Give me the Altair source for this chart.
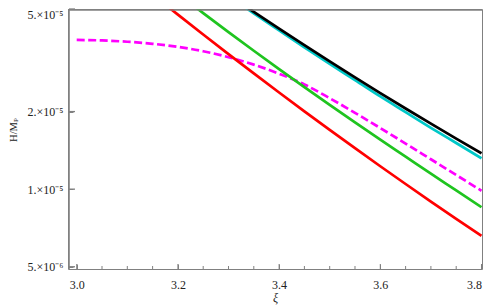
import altair as alt
import pandas as pd

# ---- data ----
xi_black = [3.30, 3.35, 3.40, 3.45, 3.50, 3.55, 3.60, 3.65, 3.70, 3.75, 3.80]
h_black = [5.675e-5, 4.875e-5, 4.198e-5, 3.622e-5, 3.133e-5, 2.716e-5, 2.360e-5, 2.056e-5, 1.795e-5, 1.570e-5, 1.377e-5]

xi_cyan = [3.30, 3.35, 3.40, 3.45, 3.50, 3.55, 3.60, 3.65, 3.70, 3.75, 3.80]
h_cyan = [5.62e-5, 4.81e-5, 4.13e-5, 3.55e-5, 3.06e-5, 2.65e-5, 2.29e-5, 1.99e-5, 1.73e-5, 1.51e-5, 1.318e-5]

xi_green = [3.20, 3.25, 3.30, 3.35, 3.40, 3.45, 3.50, 3.55, 3.60, 3.65, 3.70, 3.75, 3.80]
h_green = [5.74e-5, 4.82e-5, 4.064e-5, 3.443e-5, 2.924e-5, 2.489e-5, 2.123e-5, 1.816e-5, 1.556e-5, 1.337e-5, 1.148e-5, 9.89e-6, 8.51e-6]

xi_red = [3.15, 3.20, 3.25, 3.30, 3.35, 3.40, 3.45, 3.50, 3.55, 3.60, 3.65, 3.70, 3.75, 3.80]
h_red = [5.69e-5, 4.753e-5, 3.981e-5, 3.342e-5, 2.812e-5, 2.371e-5, 2.004e-5, 1.698e-5, 1.442e-5, 1.227e-5, 1.047e-5, 8.95e-6, 7.67e-6, 6.59e-6]

xi_magenta = [3.00, 3.05, 3.10, 3.15, 3.20, 3.25, 3.30, 3.35, 3.40, 3.45, 3.50, 3.55, 3.60, 3.65, 3.70, 3.75, 3.80]
h_magenta = [3.793e-5, 3.776e-5, 3.732e-5, 3.664e-5, 3.564e-5, 3.428e-5, 3.251e-5, 3.041e-5, 2.805e-5, 2.547e-5,
             2.254e-5, 1.977e-5, 1.726e-5, 1.503e-5, 1.306e-5, 1.135e-5, 9.86e-6]

x_ticks = [3.0, 3.2, 3.4, 3.6, 3.8]
x_minor = [3.05, 3.1, 3.15, 3.25, 3.3, 3.35, 3.45, 3.5, 3.55, 3.65, 3.7, 3.75]
y_ticks = [5e-6, 1e-5, 2e-5, 5e-5]
y_labels = ["5.×10⁻⁶", "1.×10⁻⁵", "2.×10⁻⁵", "5.×10⁻⁵"]

# ---- layout ----
W, H = 414, 260
GRAY = "#808080"
FONT = "Liberation Serif"

xscale = alt.Scale(domain=[2.9828, 3.8010], nice=False, zero=False)
yscale = alt.Scale(type="log", domain=[4.9e-6, 5e-5], nice=False)

label_expr = " : ".join(
    f"abs(datum.value - {v}) < {v * 0.01} ? '{l}'" for v, l in zip(y_ticks, y_labels)
) + " : ''"

xaxis = alt.Axis(values=x_ticks, format=".1f", offset=-5, tickSize=5, domain=False, grid=False,
                 labelPadding=10, labelFlush=True, title="ξ", titleFontStyle="italic",
                 titleFontWeight="normal", titleFont=FONT, titleFontSize=12, titlePadding=2,
                 titleColor="#222")
yaxis = alt.Axis(values=y_ticks, labelExpr=label_expr, offset=-5, tickSize=5, domain=False, grid=False,
                 labelPadding=5, labelFlush=True, title=None)

series = [
    ("magenta", xi_magenta, h_magenta, "#ff00ff", [8, 3.5]),
    ("red", xi_red, h_red, "#ff0000", None),
    ("green", xi_green, h_green, "#1fc41f", None),
    ("cyan", xi_cyan, h_cyan, "#00c8c8", None),
    ("black", xi_black, h_black, "#000000", None),
]

layers = []
for name, xs, ys, col, dash in series:
    df = pd.DataFrame({"xi": xs, "h": ys})
    kw = dict(clip=True, color=col, strokeWidth=2.7, interpolate="monotone")
    if dash:
        kw["strokeDash"] = dash
    layers.append(
        alt.Chart(df).mark_line(**kw).encode(
            x=alt.X("xi:Q", scale=xscale, axis=xaxis),
            y=alt.Y("h:Q", scale=yscale, axis=yaxis),
        )
    )

minor = alt.Chart(pd.DataFrame({"xi": x_minor})).mark_rule(color=GRAY, strokeWidth=1).encode(
    x=alt.X("xi:Q", scale=xscale, axis=xaxis),
    y=alt.value(H - 3), y2=alt.value(H),
)
xmajor = alt.Chart(pd.DataFrame({"xi": x_ticks})).mark_rule(color=GRAY, strokeWidth=1).encode(
    x=alt.X("xi:Q", scale=xscale, axis=xaxis),
    y=alt.value(H - 5), y2=alt.value(H),
)
ymajor = alt.Chart(pd.DataFrame({"h": y_ticks})).mark_rule(color=GRAY, strokeWidth=1.3).encode(
    y=alt.Y("h:Q", scale=yscale, axis=yaxis),
    x=alt.value(1), x2=alt.value(7),
)

edge_df = pd.DataFrame({"e": [0]})
left_edge = alt.Chart(edge_df).mark_rule(color=GRAY, strokeWidth=1.6).encode(
    x=alt.value(1), y=alt.value(0), y2=alt.value(H))
top_edge = alt.Chart(edge_df).mark_rule(color=GRAY, strokeWidth=1.6).encode(
    x=alt.value(0), x2=alt.value(W), y=alt.value(1))

ytitle = alt.Chart(pd.DataFrame({"t": ["H/M"]})).mark_text(
    angle=270, font=FONT, fontSize=10.5, color="#222", align="center", baseline="middle").encode(
    text="t:N", x=alt.value(-54), y=alt.value(123))
ysub = alt.Chart(pd.DataFrame({"t": ["P"]})).mark_text(
    angle=270, font=FONT, fontSize=7, color="#222", align="center", baseline="middle").encode(
    text="t:N", x=alt.value(-52), y=alt.value(111))

chart = alt.layer(*layers, minor, xmajor, ymajor, left_edge, top_edge, ytitle, ysub).properties(
    width=W, height=H, padding={"left": 60, "top": 1, "right": 1, "bottom": 37},
    autosize=alt.AutoSizeParams(type="none"),
).configure_view(stroke=GRAY, strokeWidth=1).configure_axis(
    labelFont=FONT, labelFontSize=12, labelColor="#222", tickColor=GRAY, tickWidth=1,
)

chart.save("out.html", embed_options={"renderer": "svg", "actions": False})
